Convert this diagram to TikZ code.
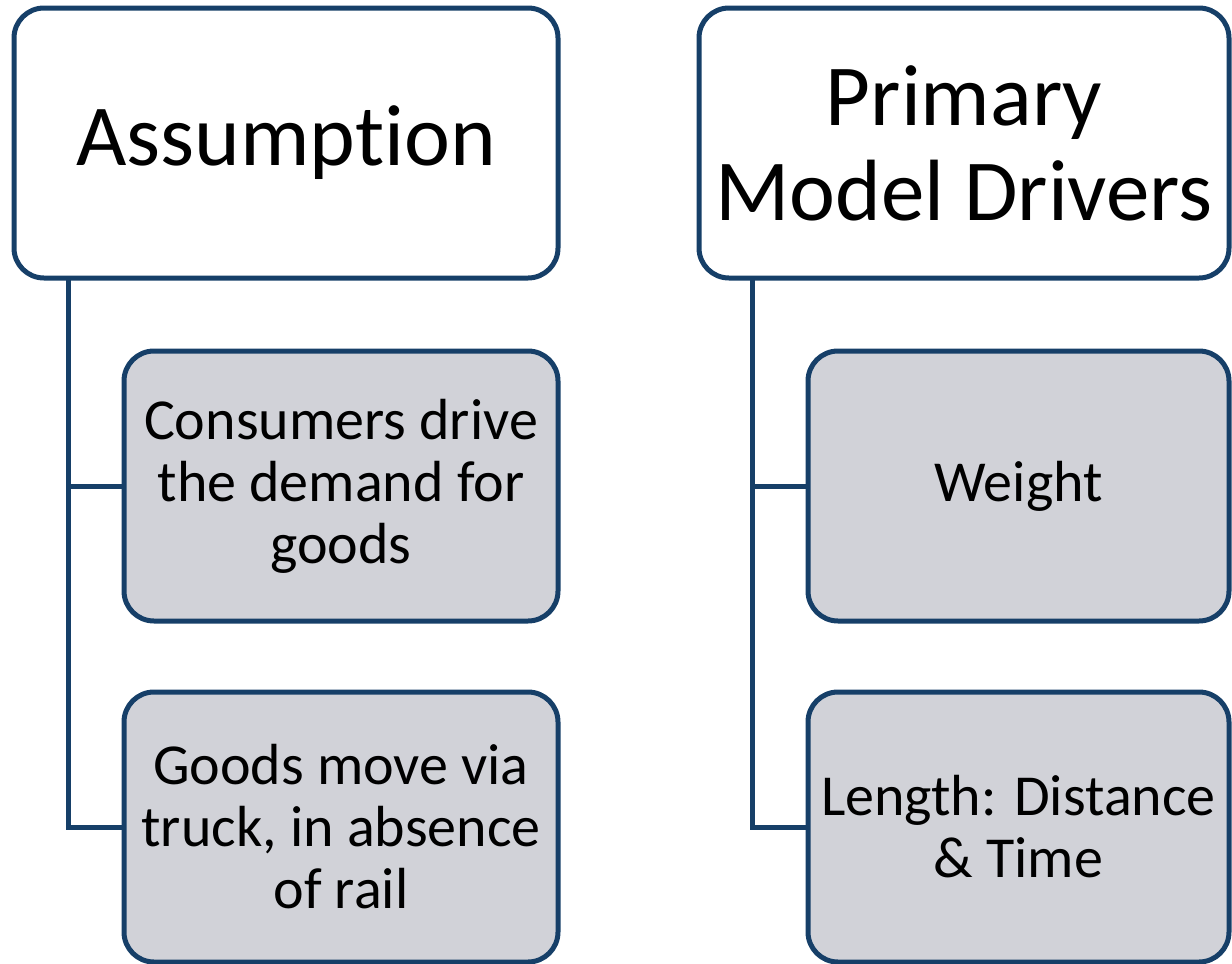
\documentclass[tikz,border=0pt]{standalone}
\usepackage{fontspec}
\setmainfont{Carlito}[RawFeature={-liga;-clig;-calt;-dlig}]
\usepackage{xcolor}
\usepackage{tikz}
\usetikzlibrary{positioning}
\usetikzlibrary{calc}
\definecolor{navyline}{RGB}{22,63,104}
\definecolor{greyfill}{RGB}{209,210,216}
\tikzstyle{headbox}=[rectangle,rounded corners=30pt,draw=navyline,line width=5pt,fill=white,align=center,inner sep=0pt,outer sep=0pt,minimum height=270pt,font=\fontsize{87}{95}\selectfont]
\tikzstyle{itembox}=[rectangle,rounded corners=30pt,draw=navyline,line width=5pt,fill=greyfill,align=center,inner sep=0pt,outer sep=0pt,minimum height=270pt,font=\fontsize{58}{62}\selectfont]
\tikzstyle{branch} = [draw=navyline,line width=5pt]
\tikzset{leftbox/.style={itembox,minimum width=434pt}, rightbox/.style={itembox,minimum width=421pt}}

\begin{document}
\begin{tikzpicture}[x=1pt,y=-1pt]

 \useasboundingbox (0,0) rectangle (1232,964);

 %Assumption
 \node[headbox,minimum width=544pt] (lhead) at (286,143) {Assumption};

   \foreach \x/\y/\name/\label in {341/486/lc1/{Consumers drive\\the demand for\\goods}, 341/827/lc2/{Goods move via\\truck, in absence\\of rail}}
          \node[leftbox] (\name) at (\x, \y) {\label};

 \coordinate (ltrunk) at ($(lhead.south west)+(54,0)$);

  \foreach \dest in {lc1, lc2}
         \path[branch] (ltrunk) |- (\dest.west);

 %Primary Model Drivers
 \node[headbox,minimum width=530pt] (rhead) at (964,143) {Primary\\Model Drivers};

   \foreach \x/\y/\name/\label in {1018.5/486/rc1/{Weight}, 1018.5/827/rc2/{Length: Distance\\\& Time}}
          \node[rightbox] (\name) at (\x, \y) {\label};

 \coordinate (rtrunk) at ($(rhead.south west)+(53,0)$);

  \foreach \dest in {rc1, rc2}
         \path[branch] (rtrunk) |- (\dest.west);

\end{tikzpicture}
\end{document}
